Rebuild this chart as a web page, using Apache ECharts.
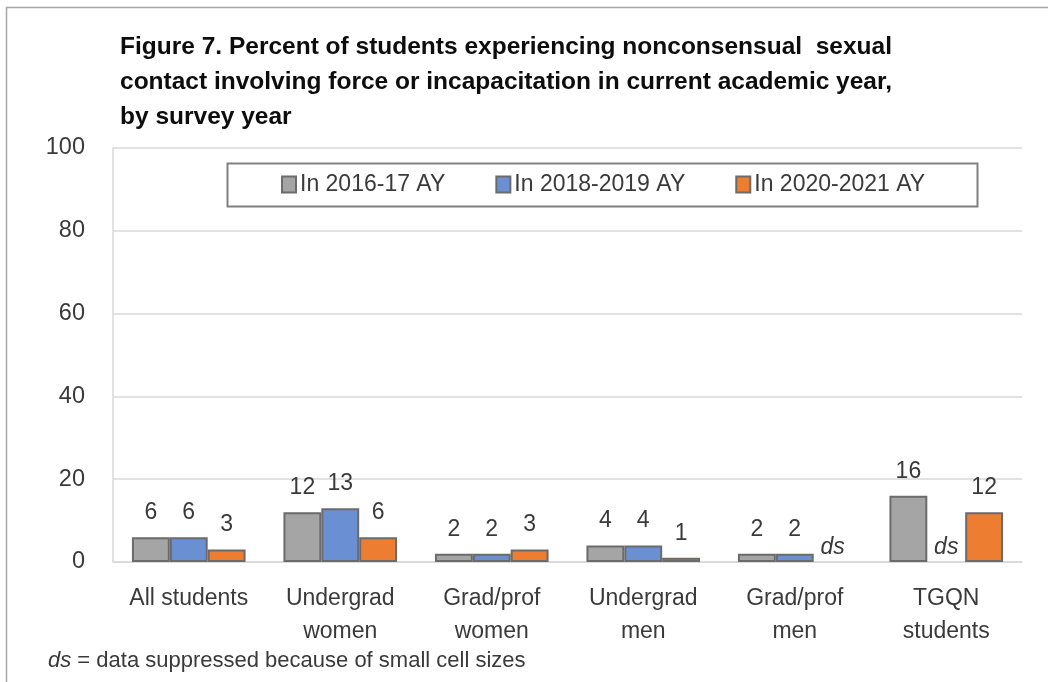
<!DOCTYPE html>
<html>
<head>
<meta charset="utf-8">
<script src="https://cdn.jsdelivr.net/npm/echarts@6/dist/echarts.min.js"></script>
<style>
  html, body { margin: 0; padding: 0; background: #ffffff; }
  #chart { width: 1048px; height: 682px; }
</style>
</head>
<body>
<div id="chart"></div>
<script>
// Groups of students
const categories = [
  'All students',
  'Undergrad\nwomen',
  'Grad/prof\nwomen',
  'Undergrad\nmen',
  'Grad/prof\nmen',
  'TGQN\nstudents'
];

// Percent by survey year; null = data suppressed (ds)
const ay2016 = [6, 12, 2, 4, 2, 16];
const ay2018 = [6, 13, 2, 4, 2, null];
const ay2020 = [3, 6, 3, 1, null, 12];

const seriesNames = ['In 2016-17 AY', 'In 2018-2019 AY', 'In 2020-2021 AY'];
const seriesColors = ['#a5a5a5', '#6a8fd2', '#ed7d31'];

const yTicks = { min: 0, max: 100, interval: 20 };

const FONT = '"Liberation Sans", Arial, sans-serif';
const TEXT = '#3a3a3a';

// Suppressed cells keep their slot and show an italic "ds" at the baseline
function toItems(values) {
  return values.map(v => {
    if (v === null) {
      return {
        value: 0,
        itemStyle: { color: 'transparent', borderWidth: 0 },
        label: { formatter: 'ds', fontStyle: 'italic', distance: 3 }
      };
    }
    return { value: v };
  });
}

const chart = echarts.init(document.getElementById('chart'), null, { renderer: 'canvas' });

const seriesData = [ay2016, ay2018, ay2020];

chart.setOption({
  backgroundColor: '#ffffff',
  animation: false,
  title: {
    text: 'Figure 7. Percent of students experiencing nonconsensual  sexual\ncontact involving force or incapacitation in current academic year,\nby survey year',
    left: 115,
    top: 25,
    textStyle: {
      fontFamily: FONT,
      fontWeight: 'bold',
      fontSize: 24.5,
      lineHeight: 35,
      color: '#0d0d0d'
    }
  },
  legend: {
    left: 276,
    top: 168,
    itemWidth: 14,
    itemHeight: 16,
    itemGap: 50,
    icon: 'rect',
    data: seriesNames,
    textStyle: { fontFamily: FONT, fontSize: 23, color: TEXT, padding: [0, 0, 0, -1] }
  },
  grid: {
    left: 113,
    right: 26,
    top: 148,
    bottom: 120,
    containLabel: false
  },
  xAxis: {
    type: 'category',
    data: categories,
    axisLine: { show: true, lineStyle: { color: '#d9d9d9', width: 1.5 } },
    axisTick: { show: false },
    axisLabel: {
      interval: 0,
      margin: 20,
      fontFamily: FONT,
      fontSize: 23,
      lineHeight: 33,
      color: TEXT
    }
  },
  yAxis: {
    type: 'value',
    min: yTicks.min,
    max: yTicks.max,
    interval: yTicks.interval,
    axisLine: { show: true, lineStyle: { color: '#d9d9d9', width: 1.5 } },
    axisTick: { show: false },
    splitLine: { show: true, lineStyle: { color: '#d9d9d9', width: 1.5 } },
    axisLabel: {
      margin: 28,
      fontFamily: FONT,
      fontSize: 23.5,
      color: TEXT,
      padding: [4, 0, 0, 0]
    }
  },
  series: seriesNames.map((name, i) => ({
    name: name,
    type: 'bar',
    data: toItems(seriesData[i]),
    barGap: '0%',
    barCategoryGap: '25%',
    itemStyle: {
      color: seriesColors[i],
      borderColor: '#6b6b6b',
      borderWidth: 2
    },
    label: {
      show: true,
      position: 'top',
      distance: 13,
      fontFamily: FONT,
      fontSize: 23,
      color: TEXT
    }
  })),
  graphic: [
    // outer chart frame
    {
      type: 'rect',
      left: 4, top: 5,
      shape: { width: 1100, height: 800 },
      style: { fill: 'none', stroke: '#a6a6a6', lineWidth: 1.5 },
      silent: true,
      z: -1
    },
    // legend frame
    {
      type: 'rect',
      left: 225, top: 161,
      shape: { width: 750, height: 43 },
      style: { fill: 'none', stroke: '#808080', lineWidth: 2 },
      silent: true,
      z: 10
    },
    // footnote
    {
      type: 'text',
      left: 48,
      top: 650,
      style: {
        text: '{i|ds} = data suppressed because of small cell sizes',
        rich: {
          i: { fontFamily: FONT, fontSize: 22, fontStyle: 'italic', fill: TEXT }
        },
        fontFamily: FONT,
        fontSize: 22,
        fill: TEXT
      }
    }
  ]
});
</script>
</body>
</html>
